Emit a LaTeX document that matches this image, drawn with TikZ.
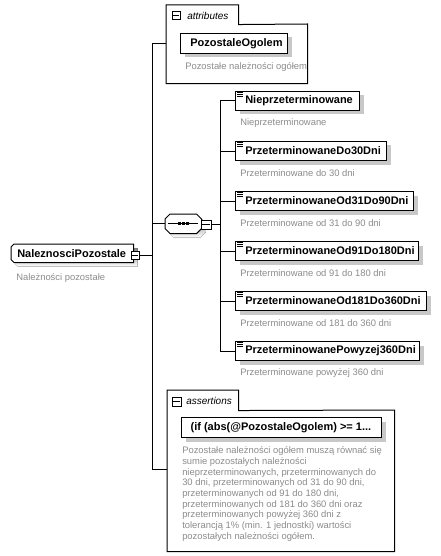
\documentclass[tikz,border=0pt]{standalone}
\usepackage{fontspec}
\setmainfont{Liberation Sans}
\usetikzlibrary{shadows}
\definecolor{desc}{RGB}{140,140,140}
\definecolor{shade}{RGB}{200,200,200}
\def\pxu{0.75pt}
\tikzset{
  lw/.style={line width=0.75pt},
  shad/.style={drop shadow={shadow xshift=3pt, shadow yshift=-3pt, fill=shade, opacity=1}},
  elem/.style={lw, draw, fill=white, anchor=north west, minimum height=19*\pxu, inner sep=0pt, shad},
  ename/.style={anchor=west, inner sep=0pt, font=\fontsize{8.25pt}{10pt}\selectfont\bfseries},
  edesc/.style={anchor=west, inner sep=0pt, text=desc, font=\fontsize{7.05pt}{8pt}\selectfont},
  tabtext/.style={anchor=west, inner sep=0pt, font=\fontsize{7.5pt}{9pt}\selectfont\itshape},
  minusbox/.style={lw, draw, fill=white, minimum size=8*\pxu, inner sep=0pt},
  frame/.style={anchor=north west, inner sep=0pt, draw=none},
  conn/.style={lw},
}
\newcommand\minusmark[1]{\draw[lw] ([xshift=1.4pt]#1.west) -- ([xshift=-1.4pt]#1.east);}
\newcommand\docicon[1]{%
  \draw[line width=0.6pt] ([shift={(2,1.5)}]#1.north west) -- ++(6,0);
  \draw[line width=0.6pt] ([shift={(2,3.5)}]#1.north west) -- ++(6,0);
  \draw[line width=0.6pt] ([shift={(2,5.5)}]#1.north west) -- ++(6,0);}
\begin{document}
\begin{tikzpicture}[x=0.75pt,y=-0.75pt]
\useasboundingbox[fill=white] (0,0) rectangle (440,556);

% ---------- attributes group ----------
\node[frame, minimum width=72*\pxu, minimum height=19*\pxu] (attrtab) at (166,5) {};
\node[frame, minimum width=141*\pxu, minimum height=59*\pxu] (attrbox) at (166,24) {};
\draw[lw] (attrbox.south west) -- (attrtab.north west) -- (attrtab.north east)
  -- (attrtab.south east) -- (attrbox.north east) -- (attrbox.south east) -- cycle;
\node[minusbox] (attrminus) at (176,16) {};
\minusmark{attrminus}
\node[tabtext] (attrlabel) at (187,15.5) {attributes};
\node[elem, minimum width=107*\pxu, minimum height=20*\pxu] (pozo) at (180,33) {};
\node[ename] (pozoname) at ([xshift=7.5pt]pozo.west) {PozostaleOgolem};
\node[edesc] (pozodesc) at (185,67) {Pozostałe należności ogółem};

% ---------- main element ----------
\node[frame, minimum width=122*\pxu, minimum height=18*\pxu] (main) at (11,244) {};
\fill[shade] ([shift={(7,4)}]main.north west) -- ([shift={(4,4)}]main.north east)
  -- ([shift={(4,4)}]main.south east) -- ([shift={(7,4)}]main.south west)
  -- ([shift={(4,1)}]main.south west) -- ([shift={(4,7)}]main.north west) -- cycle;
\draw[lw, fill=white] ([xshift=2.25pt]main.north west) -- (main.north east)
  -- (main.south east) -- ([xshift=2.25pt]main.south west)
  -- ([yshift=2.25pt]main.south west) -- ([yshift=-2.25pt]main.north west) -- cycle;
\node[ename] (mainname) at ([xshift=4.5pt]main.west) {NaleznosciPozostale};
\node[minusbox] (mainminus) at (135,255) {};
\minusmark{mainminus}
\node[edesc] (maindesc) at (16,278) {Należności pozostałe};

\coordinate (trunk) at (152,255);
\coordinate (asin) at (167,469);
\draw[conn] (mainminus.east) -- (trunk);
\draw[conn] (trunk |- pozo.west) -- (trunk |- asin);
\draw[conn] (trunk |- pozo.west) -- (attrbox.west |- pozo.west);
\draw[conn] (trunk |- asin) -- (asin);

% ---------- sequence compositor ----------
\node[frame, minimum width=36*\pxu, minimum height=19*\pxu] (seq) at (165,214) {};
\fill[shade] ([shift={(9,4)}]seq.north west) -- ([shift={(-1,4)}]seq.north east)
  -- ([shift={(4,9)}]seq.north east) -- ([shift={(4,-1)}]seq.south east)
  -- ([shift={(-1,4)}]seq.south east) -- ([shift={(9,4)}]seq.south west)
  -- ([shift={(4,-1)}]seq.south west) -- ([shift={(4,9)}]seq.north west) -- cycle;
\draw[lw, fill=white] ([xshift=3.75pt]seq.north west) -- ([xshift=-3.75pt]seq.north east)
  -- ([yshift=-3.75pt]seq.north east) -- ([yshift=3.75pt]seq.south east)
  -- ([xshift=-3.75pt]seq.south east) -- ([xshift=3.75pt]seq.south west)
  -- ([yshift=3.75pt]seq.south west) -- ([yshift=-3.75pt]seq.north west) -- cycle;
\draw[lw] ([xshift=2.5pt]seq.west) -- ([xshift=-2.5pt]seq.east);
\foreach \dx in {-4,0,4}{
  \fill ([xshift=\dx*0.75pt]seq.center) +(-1.5,-1.5) rectangle +(1.5,1.5);
}
\node[minusbox, minimum width=10*\pxu, minimum height=9*\pxu] (seqminus) at (206,224.5) {};
\minusmark{seqminus}
\draw[conn] (trunk |- seq.west) -- (seq.west);
\coordinate (bus) at (220,224.5);
\draw[conn] (seqminus.east) -- (bus);

% ---------- children ----------
\foreach \n/\top/\w/\name/\desc in {
  c1/91/124/Nieprzeterminowane/Nieprzeterminowane,
  c2/141/151/PrzeterminowaneDo30Dni/Przeterminowane do 30 dni,
  c3/191/178/PrzeterminowaneOd31Do90Dni/Przeterminowane od 31 do 90 dni,
  c4/241/183/PrzeterminowaneOd91Do180Dni/Przeterminowane od 91 do 180 dni,
  c5/291/191/PrzeterminowaneOd181Do360Dni/Przeterminowane od 181 do 360 dni,
  c6/341/184/PrzeterminowanePowyzej360Dni/Przeterminowane powyżej 360 dni}{
  \node[elem, minimum width=\w*\pxu] (\n) at (235,\top) {};
  \node[ename] (\n name) at ([xshift=7.5pt]\n.west) {\name};
  \node[edesc] (\n desc) at (240,\top+32) {\desc};
  \docicon{\n}
  \draw[conn] (bus |- \n.west) -- (\n.west);
}
\draw[conn] (bus |- c1.west) -- (bus |- c6.west);

% ---------- assertions group ----------
\node[frame, minimum width=71*\pxu, minimum height=20*\pxu] (astab) at (167,390) {};
\node[frame, minimum width=227*\pxu, minimum height=141*\pxu] (asbox) at (167,410) {};
\draw[lw] (asbox.south west) -- (astab.north west) -- (astab.north east)
  -- (astab.south east) -- (asbox.north east) -- (asbox.south east) -- cycle;
\node[minusbox, minimum size=9*\pxu] (asminus) at (176.5,401.5) {};
\minusmark{asminus}
\node[tabtext] (aslabel) at (186,400.5) {assertions};
\node[elem, minimum width=200*\pxu, minimum height=20*\pxu] (assert) at (181,417) {};
\node[ename] (assertname) at ([xshift=7pt]assert.west) {(if (abs(@PozostaleOgolem) >= 1...};
\node[anchor=north west, inner sep=0pt, text=desc, align=left,
  font=\fontsize{7.05pt}{8pt}\selectfont] (assertdesc) at (182,446.5) {Pozostałe należności ogółem muszą równać się\\
sumie pozostałych należności\\
nieprzeterminowanych, przeterminowanych do\\
30 dni, przeterminowanych od 31 do 90 dni,\\
przeterminowanych od 91 do 180 dni,\\
przeterminowanych od 181 do 360 dni oraz\\
przeterminowanych powyżej 360 dni z\\
tolerancją 1\% (min. 1 jednostki) wartości\\
pozostałych należności ogółem.};
\end{tikzpicture}
\end{document}
